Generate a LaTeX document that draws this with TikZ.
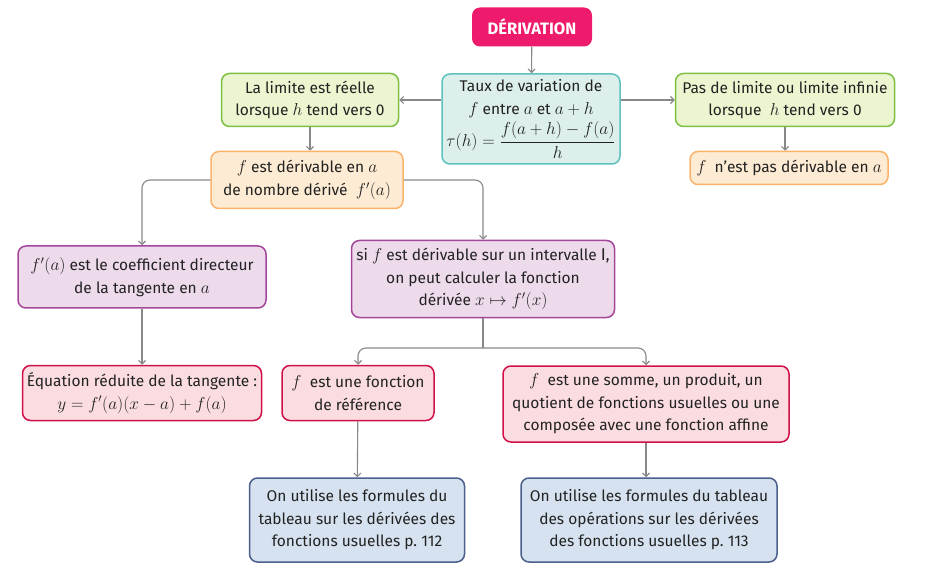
\documentclass[tikz,border=0pt]{standalone}
\usepackage{amsmath}
\usepackage{fontspec}
\setmainfont{Fira Sans}
\DeclareMathSizes{15.5}{17}{12.5}{10}
\usetikzlibrary{arrows.meta}
\definecolor{magentaT}{HTML}{EE1A6B}
\definecolor{tealF}{HTML}{DCEFEA}
\definecolor{tealD}{HTML}{5CC2BE}
\definecolor{greenF}{HTML}{EBF6D0}
\definecolor{greenD}{HTML}{7DC142}
\definecolor{orangeF}{HTML}{FDEBD3}
\definecolor{orangeD}{HTML}{F9B36B}
\definecolor{purpleF}{HTML}{EDDAEB}
\definecolor{purpleD}{HTML}{A3479A}
\definecolor{redF}{HTML}{FBDDE1}
\definecolor{redD}{HTML}{D01048}
\definecolor{blueF}{HTML}{D6E2EF}
\definecolor{blueD}{HTML}{4A5F8A}
\definecolor{txt}{HTML}{222222}
\definecolor{conn}{HTML}{888888}
\begin{document}
\begin{tikzpicture}[x=1pt,y=1pt,
  box/.style={rounded corners=8pt, line width=1.5pt, align=center, inner sep=1pt,
    text=txt, font=\fontsize{15.5}{22.5}\selectfont},
  tealbox/.style={box, fill=tealF, draw=tealD},
  greenbox/.style={box, fill=greenF, draw=greenD},
  orangebox/.style={box, fill=orangeF, draw=orangeD},
  purplebox/.style={box, fill=purpleF, draw=purpleD},
  redbox/.style={box, fill=redF, draw=redD},
  bluebox/.style={box, fill=blueF, draw=blueD},
  arr/.style={draw=conn, line width=1.1pt, -{Straight Barb[angle=90:5pt]}},
  ln/.style={draw=conn, line width=1.1pt},
]
\useasboundingbox (0,0) rectangle (943,-588);

\node[rounded corners=8pt, fill=magentaT, text=white, minimum width=120pt, minimum height=39pt,
  font=\fontsize{16.5}{18}\selectfont\bfseries] (top) at (532,-27) {DÉRIVATION};

\node[tealbox, minimum width=178pt, minimum height=90pt] (taux) at (531,-119)
  {Taux de variation de\\ $f$ entre $a$ et $a+h$\\[3pt] $\tau(h)=\dfrac{f(a+h)-f(a)}{h}$};

\node[greenbox, minimum width=177pt, minimum height=53pt] (limL) at (310,-100)
  {La limite est réelle\\ lorsque $h$ tend vers 0};
\node[greenbox, minimum width=219pt, minimum height=53pt] (limR) at (785,-100)
  {Pas de limite ou limite infinie\\ lorsque~ $h$ tend vers 0};

\node[orangebox, minimum width=198pt, minimum height=33pt] (nonder) at (789,-168)
  {$f$~ n'est pas dérivable en $a$};
\node[orangebox, minimum width=192pt, minimum height=57pt] (der) at (307,-180)
  {$f$ est dérivable en $a$\\ de nombre dérivé ~$f'(a)$};

\node[purplebox, minimum width=248pt, minimum height=62pt] (coef) at (142,-277)
  {$f'(a)$ est le coefficient directeur\\ de la tangente en $a$};
\node[purplebox, minimum width=263pt, minimum height=77pt] (interv) at (483,-279)
  {si $f$ est dérivable sur un intervalle $\mathrm{I}$,\\ on peut calculer la fonction\\ dérivée $x\mapsto f'(x)$};

\node[redbox, minimum width=239pt, minimum height=55pt] (eq) at (142,-393)
  {Équation réduite de la tangente :\\ $y=f'(a)(x-a)+f(a)$};
\node[redbox, minimum width=152pt, minimum height=55pt] (ref) at (358,-393)
  {$f$~ est une fonction\\ de référence};
\node[redbox, minimum width=286pt, minimum height=76pt] (somme) at (646,-404)
  {$f$~ est une somme, un produit, un\\ quotient de fonctions usuelles ou une\\ composée avec une fonction affine};

\node[bluebox, minimum width=215pt, minimum height=84pt] (tabL) at (357,-520)
  {On utilise les formules du\\ tableau sur les dérivées des\\ fonctions usuelles p.~112};
\node[bluebox, minimum width=256pt, minimum height=84pt] (tabR) at (649,-520)
  {On utilise les formules du tableau\\ des opérations sur les dérivées\\ des fonctions usuelles p.~113};

\coordinate (fork) at (483,-348);

\draw[arr] (top) -- (taux);
\draw[arr] (taux.west |- limL.east) -- (limL.east);
\draw[arr] (taux.east |- limR.west) -- (limR.west);
\draw[arr] (limL.south) -- (limL.south |- der.north);
\draw[arr] (limR.south) -- (limR.south |- nonder.north);
\draw[arr, rounded corners=8pt] (der.west) -| (coef.north);
\draw[arr, rounded corners=8pt] (der.east) -| (interv.north);
\draw[arr] (coef) -- (eq);
\draw[ln] (interv.south) -- (fork);
\draw[arr, rounded corners=8pt] (fork) -| (ref.north);
\draw[arr, rounded corners=8pt] (fork) -| (somme.north);
\draw[arr] (ref) -- (tabL);
\draw[arr] (somme.south) -- (somme.south |- tabR.north);
\end{tikzpicture}
\end{document}
